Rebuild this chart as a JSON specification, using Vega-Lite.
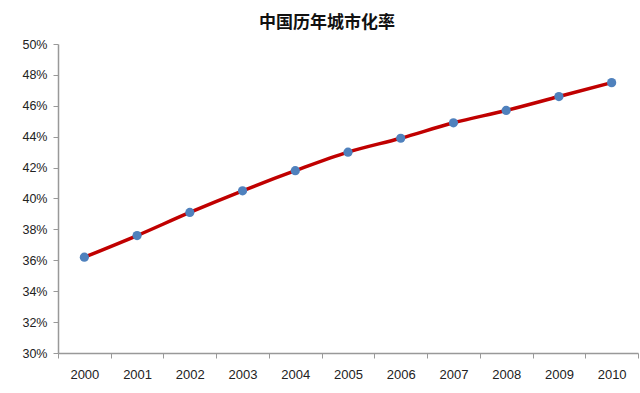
{
  "$schema": "https://vega.github.io/schema/vega-lite/v6.json",
  "width": 580,
  "height": 309,
  "autosize": "none",
  "padding": {"left": 58, "top": 44, "right": 2, "bottom": 40},
  "background": "white",
  "title": {
    "text": "中国历年城市化率",
    "font": "Noto Sans CJK SC",
    "fontSize": 17,
    "fontWeight": "bold",
    "color": "#111111",
    "dx": -21,
    "offset": 6
  },
  "data": {
    "values": [
      {"year": "2000", "rate": 0.362},
      {"year": "2001", "rate": 0.376},
      {"year": "2002", "rate": 0.391},
      {"year": "2003", "rate": 0.405},
      {"year": "2004", "rate": 0.418},
      {"year": "2005", "rate": 0.430},
      {"year": "2006", "rate": 0.439},
      {"year": "2007", "rate": 0.449},
      {"year": "2008", "rate": 0.457},
      {"year": "2009", "rate": 0.466},
      {"year": "2010", "rate": 0.475}
    ]
  },
  "encoding": {
    "x": {
      "field": "year",
      "type": "ordinal",
      "scale": {"paddingInner": 0, "paddingOuter": 0},
      "axis": {
        "title": null,
        "labelAngle": 0,
        "tickBand": "extent",
        "domainColor": "#999999",
        "domainWidth": 1.5,
        "tickColor": "#999999",
        "tickSize": 5,
        "labelFont": "Liberation Sans",
        "labelFontSize": 13,
        "labelColor": "#222222",
        "labelPadding": 10
      }
    },
    "y": {
      "field": "rate",
      "type": "quantitative",
      "scale": {"domain": [0.30, 0.50], "nice": false, "zero": false},
      "axis": {
        "title": null,
        "format": ".0%",
        "values": [0.30, 0.32, 0.34, 0.36, 0.38, 0.40, 0.42, 0.44, 0.46, 0.48, 0.50],
        "labelOverlap": false,
        "grid": false,
        "domainColor": "#999999",
        "domainWidth": 1.5,
        "tickColor": "#999999",
        "tickSize": 5,
        "labelFont": "Liberation Sans",
        "labelFontSize": 12.5,
        "labelColor": "#222222",
        "labelPadding": 6
      }
    }
  },
  "layer": [
    {"mark": {"type": "line", "color": "#c00000", "strokeWidth": 3.5, "interpolate": "monotone"}},
    {"mark": {"type": "point", "filled": true, "color": "#4f81bd", "size": 85, "opacity": 1}}
  ],
  "config": {"view": {"stroke": null}}
}
